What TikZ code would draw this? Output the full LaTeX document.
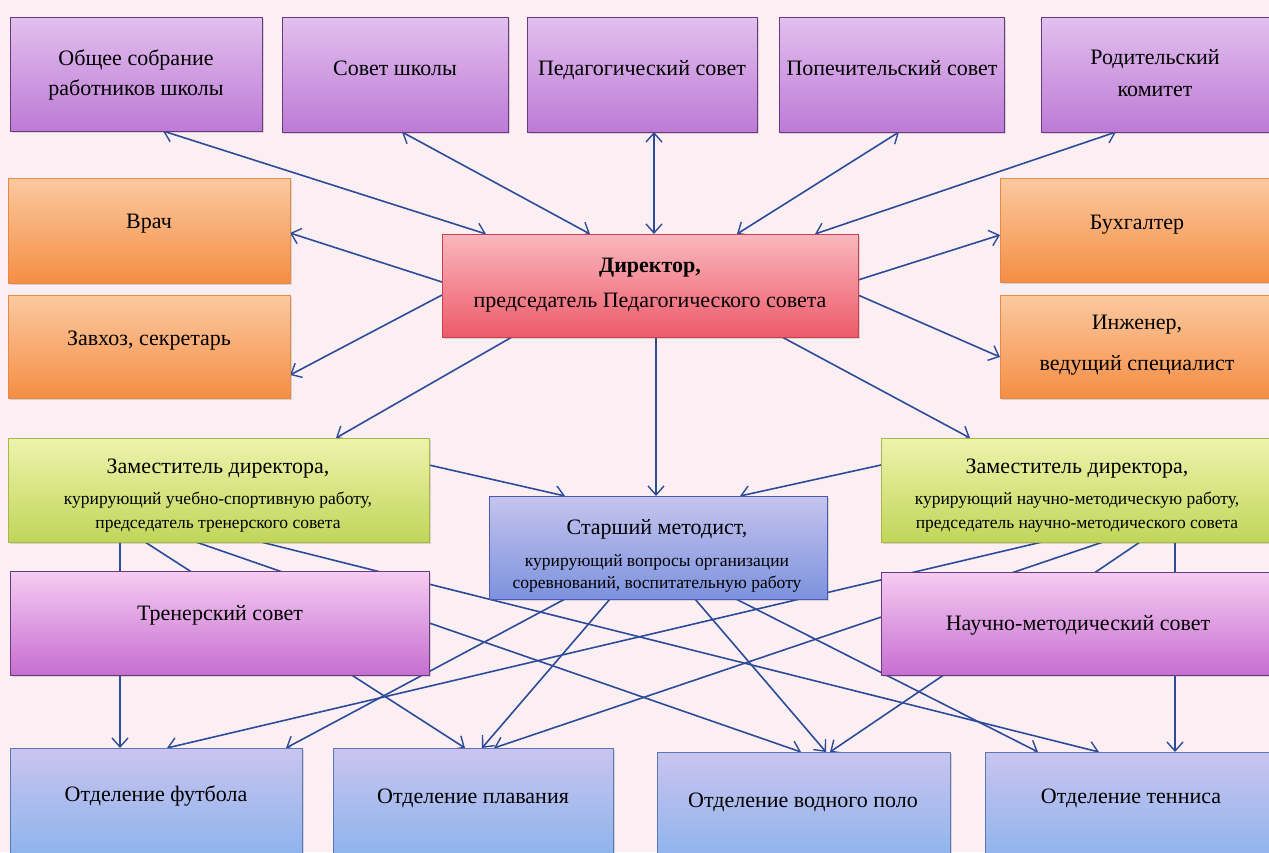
\documentclass[tikz,border=0pt]{standalone}
\usepackage{fontspec}
\setmainfont{Liberation Serif}
\usetikzlibrary{arrows.meta,calc,shadows,backgrounds}
\definecolor{bgc}{HTML}{FCEFF4}
\definecolor{lc}{HTML}{2C4B98}
\definecolor{purT}{HTML}{E2C0EE}
\definecolor{purB}{HTML}{BD7AD6}
\definecolor{purD}{HTML}{6A3A80}
\definecolor{magT}{HTML}{F6CCF2}
\definecolor{magB}{HTML}{C66ED0}
\definecolor{oraT}{HTML}{FBC9A0}
\definecolor{oraB}{HTML}{F58E44}
\definecolor{oraD}{HTML}{E48A45}
\definecolor{redT}{HTML}{F9B8BE}
\definecolor{redB}{HTML}{EE5A6A}
\definecolor{redD}{HTML}{C8404E}
\definecolor{grnT}{HTML}{EEF3AC}
\definecolor{grnB}{HTML}{C0D65A}
\definecolor{grnD}{HTML}{A8B848}
\definecolor{bluT}{HTML}{C6C4EE}
\definecolor{bluB}{HTML}{7C92DE}
\definecolor{bluD}{HTML}{4A5AAE}
\definecolor{depT}{HTML}{CAC4EF}
\definecolor{depB}{HTML}{86B2EC}
\definecolor{depD}{HTML}{5A78B8}
\tikzset{
  box/.style={draw, line width=1pt, inner sep=0pt, outer sep=0pt, anchor=north west,
    drop shadow={shadow xshift=2pt, shadow yshift=-2pt, opacity=0.22, fill=black!60}},
  purbox/.style={box, draw=purD, top color=purT, bottom color=purB},
  magbox/.style={box, draw=purD, top color=magT, bottom color=magB},
  orabox/.style={box, draw=oraD, top color=oraT, bottom color=oraB},
  redbox/.style={box, draw=redD, top color=redT, bottom color=redB},
  grnbox/.style={box, draw=grnD, top color=grnT, bottom color=grnB},
  blubox/.style={box, draw=bluD, top color=bluT, bottom color=bluB},
  depbox/.style={box, draw=depD, top color=depT, bottom color=depB},
  txt/.style={anchor=mid, inner sep=0pt, yshift=-5pt, font=\fontsize{22}{26}\selectfont},
  stxt/.style={anchor=mid, inner sep=0pt, yshift=-4pt, font=\fontsize{17.5}{20}\selectfont},
  tip/.tip={Straight Barb[length=9pt,width=16pt,line width=1.4pt]},
  con/.style={draw=lc, line width=1.6pt, -tip},
  dcon/.style={draw=lc, line width=1.6pt, tip-tip},
}
\begin{document}
\begin{tikzpicture}[x=1pt,y=-1pt]
\useasboundingbox (0,0) rectangle (1269,852);
\clip (0,0) rectangle (1269,852);
% boxes
\node[purbox, minimum width=252pt, minimum height=114pt] (obsh) at (10,17) {};
\node[purbox, minimum width=226pt, minimum height=115pt] (sovsh) at (282,17) {};
\node[purbox, minimum width=230pt, minimum height=115pt] (ped) at (527,17) {};
\node[purbox, minimum width=225pt, minimum height=115pt] (pop) at (779,17) {};
\node[purbox, minimum width=250pt, minimum height=115pt] (rod) at (1041,17) {};
\node[orabox, minimum width=282pt, minimum height=105pt] (vrach) at (8,178) {};
\node[orabox, minimum width=282pt, minimum height=103pt] (zav) at (8,295) {};
\node[orabox, minimum width=290pt, minimum height=104pt] (bukh) at (1000,178) {};
\node[orabox, minimum width=290pt, minimum height=103pt] (inzh) at (1000,295) {};
\node[redbox, minimum width=416pt, minimum height=103pt] (dir) at (442,234) {};
\node[grnbox, minimum width=421pt, minimum height=104pt] (zaml) at (8,438) {};
\node[grnbox, minimum width=400pt, minimum height=104pt] (zamr) at (881,438) {};
\node[blubox, minimum width=338pt, minimum height=103pt] (star) at (489,496) {};
\node[magbox, minimum width=419pt, minimum height=104pt] (tren) at (10,571) {};
\node[magbox, minimum width=400pt, minimum height=103pt] (nauch) at (881,572) {};
\node[depbox, minimum width=292pt, minimum height=120pt] (fut) at (10,748) {};
\node[depbox, minimum width=280pt, minimum height=120pt] (plav) at (333,748) {};
\node[depbox, minimum width=293pt, minimum height=120pt] (vodn) at (657,752) {};
\node[depbox, minimum width=300pt, minimum height=120pt] (tenn) at (985,752) {};
% texts
\node[txt] (obsh-a) at (136,58) {Общее собрание};
\node[txt] (obsh-b) at (136,88) {работников школы};
\node[txt] (sovsh-a) at (395,68) {Совет школы};
\node[txt] (ped-a) at (642,68) {Педагогический совет};
\node[txt] (pop-a) at (892,68) {Попечительский совет};
\node[txt] (rod-a) at (1155,57) {Родительский};
\node[txt] (rod-b) at (1155,89) {комитет};
\node[txt] (vrach-a) at (149,221) {Врач};
\node[txt] (zav-a) at (149,338) {Завхоз, секретарь};
\node[txt] (bukh-a) at (1137,222) {Бухгалтер};
\node[txt] (inzh-a) at (1137,322) {Инженер,};
\node[txt] (inzh-b) at (1137,363) {ведущий специалист};
\node[txt, font=\fontsize{22}{26}\selectfont\bfseries] (dir-a) at (650,265) {Директор,};
\node[txt] (dir-b) at (650,300) {председатель Педагогического совета};
\node[txt] (zaml-a) at (218,466) {Заместитель директора,};
\node[stxt] (zaml-b) at (218,498) {курирующий учебно-спортивную работу,};
\node[stxt] (zaml-c) at (218,522) {председатель тренерского совета};
\node[txt] (zamr-a) at (1077,466) {Заместитель директора,};
\node[stxt] (zamr-b) at (1077,498) {курирующий научно-методическую работу,};
\node[stxt] (zamr-c) at (1077,522) {председатель научно-методического совета};
\node[txt] (star-a) at (657,527) {Старший методист,};
\node[stxt] (star-b) at (657,560) {курирующий вопросы организации};
\node[stxt] (star-c) at (657,582) {соревнований, воспитательную работу};
\node[txt] (tren-a) at (220,613) {Тренерский совет};
\node[txt] (nauch-a) at (1078,623) {Научно-методический совет};
\node[txt] (fut-a) at (156,794) {Отделение футбола};
\node[txt] (plav-a) at (473,796) {Отделение плавания};
\node[txt] (vodn-a) at (803,800) {Отделение водного поло};
\node[txt] (tenn-a) at (1131,796) {Отделение тенниса};
% connectors
\begin{scope}[on background layer]
\fill[bgc] (0,0) rectangle (1269,852);
\draw[dcon] ($(obsh.north west)+(153,114)$) -- ($(dir.north west)+(44,0)$);
\draw[dcon] ($(sovsh.north west)+(120,115)$) -- ($(dir.north west)+(148,0)$);
\draw[dcon] ($(ped.north west)+(127,115)$) -- ($(dir.north west)+(212,0)$);
\draw[dcon] ($(pop.north west)+(120,115)$) -- ($(dir.north west)+(295,0)$);
\draw[dcon] ($(rod.north west)+(75,115)$) -- ($(dir.north west)+(373,0)$);
\draw[con] ($(dir.north west)+(0,48)$) -- ($(vrach.north west)+(282,55)$);
\draw[con] ($(dir.north west)+(0,61)$) -- ($(zav.north west)+(282,80)$);
\draw[con] ($(dir.north west)+(416,46)$) -- ($(bukh.north west)+(0,57)$);
\draw[con] ($(dir.north west)+(416,61)$) -- ($(inzh.north west)+(0,62)$);
\draw[con] ($(dir.north west)+(70,103)$) -- ($(zaml.north west)+(328,0)$);
\draw[con] ($(dir.north west)+(214,103)$) -- ($(star.north west)+(167,0)$);
\draw[con] ($(dir.north west)+(340,103)$) -- ($(zamr.north west)+(89,0)$);
\draw[con] ($(zaml.north west)+(421,27)$) -- ($(star.north west)+(76,0)$);
\draw[con] ($(zamr.north west)+(0,27)$) -- ($(star.north west)+(251,0)$);
\draw[con] ($(zaml.north west)+(112,104)$) -- ($(fut.north west)+(110,0)$);
\draw[con] ($(zaml.north west)+(137,104)$) -- ($(plav.north west)+(132,0)$);
\draw[con] ($(zaml.north west)+(188,104)$) -- ($(vodn.north west)+(144,0)$);
\draw[con] ($(zaml.north west)+(253,104)$) -- ($(tenn.north west)+(114,0)$);
\draw[con] ($(star.north west)+(76,103)$) -- ($(fut.north west)+(276,0)$);
\draw[con] ($(star.north west)+(121,103)$) -- ($(plav.north west)+(149,0)$);
\draw[con] ($(star.north west)+(206,103)$) -- ($(vodn.north west)+(169,0)$);
\draw[con] ($(star.north west)+(247,103)$) -- ($(tenn.north west)+(53,0)$);
\draw[con] ($(zamr.north west)+(294,104)$) -- ($(tenn.north west)+(190,0)$);
\draw[con] ($(zamr.north west)+(161,104)$) -- ($(fut.north west)+(157,0)$);
\draw[con] ($(zamr.north west)+(222,104)$) -- ($(plav.north west)+(161,0)$);
\draw[con] ($(zamr.north west)+(259,104)$) -- ($(vodn.north west)+(173,0)$);
\end{scope}
\end{tikzpicture}
\end{document}
